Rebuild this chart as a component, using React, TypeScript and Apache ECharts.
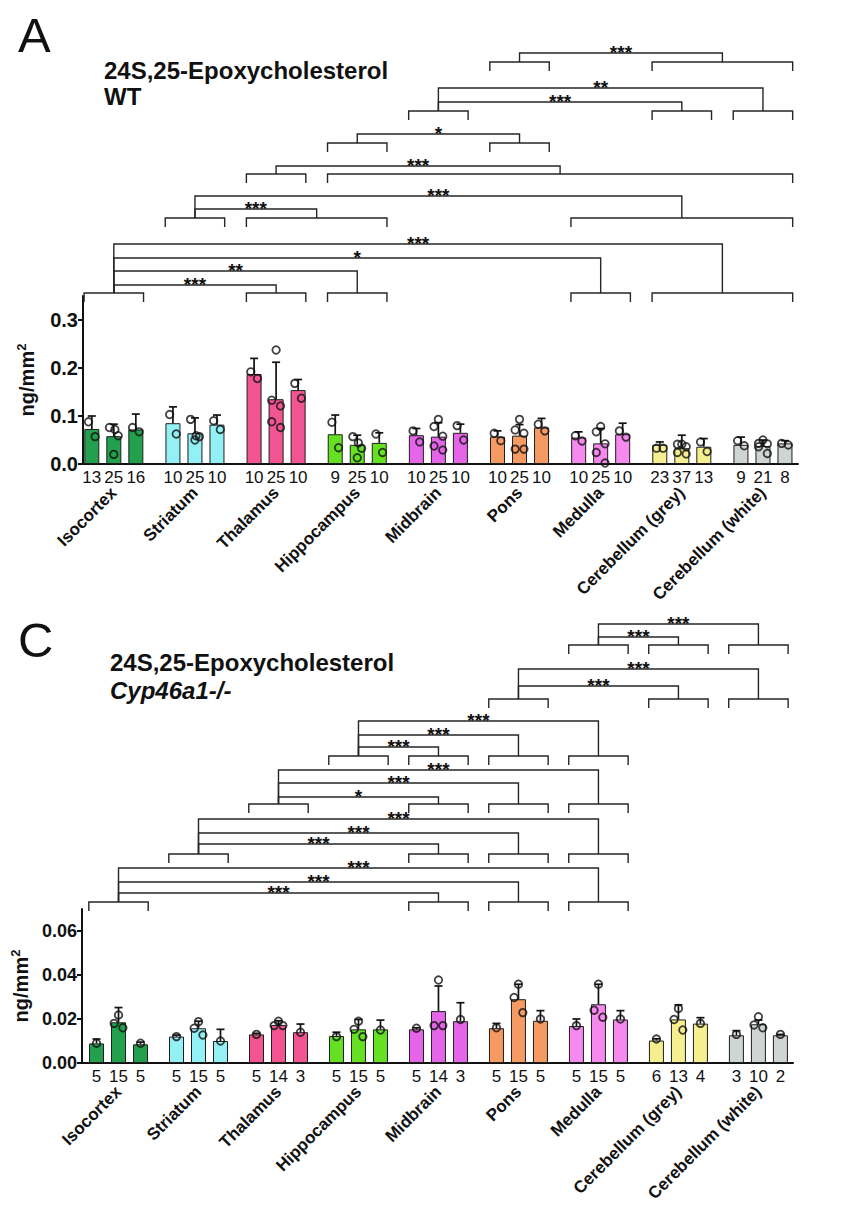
import React, { useEffect, useRef } from 'react';
import * as echarts from 'echarts';

const FONT = '"Liberation Sans", Arial, Helvetica, sans-serif';
const INK = '#111111';

// ---------- shared categories ----------
const regions = [
  'Isocortex', 'Striatum', 'Thalamus', 'Hippocampus', 'Midbrain',
  'Pons', 'Medulla', 'Cerebellum (grey)', 'Cerebellum (white)',
];
const regionColors = [
  '#22a04e', '#93f0f4', '#f25591', '#66e022', '#e565e9',
  '#f59a63', '#f589ee', '#f6ef8f', '#cfd5d3',
];

// ---------- Panel A (WT) ----------
const nA = [13, 25, 16, 10, 25, 10, 10, 25, 10, 9, 25, 10, 10, 25, 10, 10, 25, 10, 10, 25, 10, 23, 37, 13, 9, 21, 8];
const meanA = [
  0.073, 0.058, 0.072, 0.085, 0.064, 0.082, 0.1875, 0.135, 0.154,
  0.062, 0.040, 0.044, 0.060, 0.057, 0.065, 0.057, 0.059, 0.076,
  0.055, 0.043, 0.062, 0.040, 0.033, 0.036, 0.040, 0.0375, 0.043,
];
const upperA = [
  0.100, 0.083, 0.104, 0.119, 0.096, 0.102, 0.220, 0.212, 0.176,
  0.102, 0.060, 0.065, 0.074, 0.086, 0.083, 0.069, 0.082, 0.095,
  0.067, 0.074, 0.085, 0.046, 0.060, 0.053, 0.056, 0.050, 0.0486,
];
const pointsA = [
  [0.088, 0.057], [0.076, 0.072, 0.059, 0.020], [0.076, 0.067],
  [0.103, 0.0625], [0.093, 0.059, 0.057, 0.050], [0.090, 0.072],
  [0.192, 0.178], [0.2375, 0.133, 0.121, 0.088, 0.076], [0.168, 0.137],
  [0.087, 0.034], [0.057, 0.044, 0.033, 0.013], [0.0625, 0.024],
  [0.069, 0.046], [0.093, 0.078, 0.058, 0.0375, 0.029], [0.080, 0.050],
  [0.064, 0.0486], [0.093, 0.071, 0.064, 0.031, 0.031], [0.083, 0.069],
  [0.059, 0.048], [0.078, 0.067, 0.042, 0.024, 0.002], [0.069, 0.056],
  [0.033, 0.033], [0.041, 0.041, 0.036, 0.024, 0.021], [0.046, 0.026],
  [0.0486, 0.038], [0.050, 0.043, 0.042, 0.036, 0.022], [0.043, 0.0396],
];
const yTicksA = [0, 0.1, 0.2, 0.3];
// comparisons: group spans [first, last]
const compFromA = [[0, 0], [0, 0], [0, 0], [0, 0], [1, 1], [1, 1], [2, 2], [3, 3], [4, 4], [4, 4], [5, 5]];
const compToA = [[2, 2], [3, 3], [6, 6], [7, 8], [2, 3], [6, 8], [3, 8], [5, 5], [7, 7], [8, 8], [7, 8]];
const starsA = ['***', '**', '*', '***', '***', '***', '***', '*', '***', '**', '***'];

// ---------- Panel C (Cyp46a1-/-) ----------
const nC = [5, 15, 5, 5, 15, 5, 5, 14, 3, 5, 15, 5, 5, 14, 3, 5, 15, 5, 5, 15, 5, 6, 13, 4, 3, 10, 2];
const meanC = [
  0.0089, 0.0185, 0.0085, 0.0120, 0.0158, 0.0100, 0.0130, 0.0173, 0.0140,
  0.0123, 0.0153, 0.0153, 0.0153, 0.0236, 0.0190, 0.0158, 0.0290, 0.0192,
  0.0168, 0.0267, 0.0198, 0.0102, 0.0198, 0.0179, 0.0126, 0.0176, 0.0126,
];
const upperC = [
  0.0109, 0.0252, 0.0095, 0.0127, 0.0190, 0.0153, 0.0135, 0.0192, 0.0177,
  0.0140, 0.0198, 0.0195, 0.0160, 0.0350, 0.0274, 0.0180, 0.0358, 0.0238,
  0.0200, 0.0358, 0.0238, 0.0110, 0.0264, 0.0206, 0.0147, 0.0195, 0.0130,
];
const pointsC = [
  [0.009], [0.0218, 0.018, 0.016], [0.009],
  [0.012], [0.0188, 0.0158, 0.0127], [0.010],
  [0.013], [0.019, 0.017, 0.017], [0.014],
  [0.012], [0.019, 0.0153, 0.012], [0.015],
  [0.0158], [0.0377, 0.017, 0.017], [0.0198],
  [0.016], [0.0358, 0.0298, 0.0229], [0.020],
  [0.017], [0.0358, 0.024, 0.0208], [0.020],
  [0.0109], [0.0248, 0.0198, 0.015], [0.018],
  [0.013], [0.021, 0.0173, 0.016], [0.013],
];
const yTicksC = [0, 0.02, 0.04, 0.06];
const compFromC = [[0, 0], [0, 0], [0, 0], [1, 1], [1, 1], [1, 1], [2, 2], [2, 2], [2, 2], [3, 3], [3, 3], [3, 3], [5, 5], [5, 5], [6, 6], [6, 6]];
const compToC = [[4, 4], [5, 5], [6, 6], [4, 4], [5, 5], [6, 6], [4, 4], [5, 5], [6, 6], [4, 4], [5, 5], [6, 6], [7, 7], [8, 8], [7, 7], [8, 8]];
const starsC = ['***', '***', '***', '***', '***', '***', '*', '***', '***', '***', '***', '***', '***', '***', '***', '***'];

// ---------- layout (px heights of brackets above their grid bottom) ----------
const bracketBaseA = [12, 12, 12, 12, 87, 87, 131, 162, 194, 194, 243];
const bracketLineA = [20, 34, 47, 61, 96, 109, 139, 171, 203, 217, 252];
const bracketBaseC = [13, 13, 13, 61, 61, 61, 111, 111, 111, 159, 159, 159, 216, 216, 270, 270];
const bracketLineC = [22, 33, 47, 71, 82, 96, 118, 132, 145, 168, 180, 194, 229, 246, 278, 291];

const JITTER: Record<number, number[]> = {
  1: [0], 2: [-0.15, 0.15], 3: [0, -0.2, 0.2], 4: [-0.2, 0.05, 0.2, 0], 5: [0, -0.2, 0.2, -0.2, 0.2],
};

function buildPanel(cfg: any, g0: number, x0: number, y0: number) {
  const centers: number[] = [];
  const colors: string[] = [];
  for (let g = 0; g < regions.length; g++) {
    for (let s = 0; s < 3; s++) {
      centers.push(g * cfg.stride + s);
      colors.push(regionColors[g]);
    }
  }
  const groupCenters = regions.map((_, g) => g * cfg.stride + 1);
  const nearest = (arr: number[], v: number) => {
    let bi = 0;
    arr.forEach((c, i) => { if (Math.abs(c - v) < Math.abs(arr[bi] - v)) bi = i; });
    return bi;
  };

  const grids = [
    { left: cfg.left, top: cfg.barTop, width: cfg.width, height: cfg.barHeight },
    { left: cfg.left, top: cfg.brTop, width: cfg.width, height: cfg.brHeight },
  ];
  const xAxes = [
    {
      type: 'value', gridIndex: g0, min: cfg.xMin, max: cfg.xMax,
      axisLine: { show: true, onZero: false, lineStyle: { color: INK, width: 2 } },
      axisTick: { show: false }, splitLine: { show: false },
      axisLabel: {
        customValues: centers, color: INK, fontSize: 17, fontFamily: FONT, margin: 5,
        formatter: (v: number) => String(cfg.n[nearest(centers, v)]),
      },
    },
    {
      type: 'value', gridIndex: g0, min: cfg.xMin, max: cfg.xMax, position: 'bottom',
      axisLine: { show: false, onZero: false }, axisTick: { show: false }, splitLine: { show: false },
      axisLabel: {
        customValues: groupCenters, rotate: 45, color: INK, fontSize: 17, fontWeight: 'bold',
        fontFamily: FONT, margin: cfg.nameMargin,
        formatter: (v: number) => regions[nearest(groupCenters, v)],
      },
    },
    { type: 'value', gridIndex: g0 + 1, min: cfg.xMin, max: cfg.xMax, show: false },
  ];
  const yAxes = [
    {
      type: 'value', gridIndex: g0, min: 0, max: cfg.yMax,
      axisLine: { show: true, onZero: false, lineStyle: { color: INK, width: 2 } },
      axisTick: { show: true, length: 5, customValues: cfg.yTicks, lineStyle: { color: INK, width: 2 } },
      splitLine: { show: false },
      axisLabel: {
        customValues: cfg.yTicks, color: INK, fontSize: cfg.yLabelSize, fontWeight: 'bold',
        fontFamily: FONT, margin: 5, formatter: (v: number) => v.toFixed(cfg.dec),
      },
      name: '{a|ng/mm}{b|2}', nameLocation: 'middle', nameRotate: 90, nameGap: cfg.nameGap,
      nameTextStyle: {
        color: INK,
        rich: {
          a: { fontSize: 20, fontWeight: 'bold', fontFamily: FONT, color: INK, lineHeight: 24 },
          b: { fontSize: 13, fontWeight: 'bold', fontFamily: FONT, color: INK, verticalAlign: 'top', lineHeight: 24 },
        },
      },
    },
    { type: 'value', gridIndex: g0 + 1, min: 0, max: cfg.brHeight, show: false },
  ];

  const scatterData: number[][] = [];
  cfg.points.forEach((pts: number[], i: number) => {
    const jit = JITTER[pts.length] || pts.map(() => 0);
    pts.forEach((v, k) => scatterData.push([centers[i] + jit[k], v]));
  });

  const HB = 0.35;
  const span = (sp: number[]) => [centers[sp[0] * 3] - HB, centers[sp[1] * 3 + 2] + HB];
  const key = (sp: number[], base: number) => `${sp[0]}-${sp[1]}@${base}`;
  // first comparison index that draws each distinct bracket
  const owner: Record<string, string> = {};
  cfg.from.forEach((f: number[], i: number) => {
    const kf = key(f, cfg.base[i]);
    const kt = key(cfg.to[i], cfg.base[i]);
    if (!(kf in owner)) owner[kf] = `${i}f`;
    if (!(kt in owner)) owner[kt] = `${i}t`;
  });

  const series: any[] = [
    {
      type: 'bar', xAxisIndex: x0, yAxisIndex: y0, barWidth: 15, silent: true,
      itemStyle: { borderColor: '#1e1e1e', borderWidth: 1 },
      data: centers.map((c, i) => ({ value: [c, cfg.mean[i]], itemStyle: { color: colors[i] } })),
      z: 2,
    },
    {
      type: 'custom', xAxisIndex: x0, yAxisIndex: y0, silent: true, z: 3,
      data: centers.map((c, i) => [c, cfg.mean[i], cfg.upper[i]]),
      encode: { x: 0, y: [1, 2] },
      renderItem: (_p: any, api: any) => {
        const x = api.value(0);
        const a = api.coord([x, api.value(1)]);
        const b = api.coord([x, api.value(2)]);
        const st = { stroke: INK, lineWidth: 1.7 };
        return {
          type: 'group',
          children: [
            { type: 'line', shape: { x1: a[0], y1: a[1], x2: b[0], y2: b[1] }, style: st },
            { type: 'line', shape: { x1: b[0] - 4, y1: b[1], x2: b[0] + 4, y2: b[1] }, style: st },
          ],
        };
      },
    },
    {
      type: 'scatter', xAxisIndex: x0, yAxisIndex: y0, silent: true, z: 4,
      symbol: 'circle', symbolSize: 7.5,
      itemStyle: { color: 'rgba(255,255,255,0)', borderColor: INK, borderWidth: 1.8 },
      data: scatterData,
    },
    {
      type: 'custom', xAxisIndex: x0 + 2, yAxisIndex: y0 + 1, silent: true, z: 5,
      data: cfg.from.map((f: number[], i: number) => {
        const a = span(f), b = span(cfg.to[i]);
        return [((a[0] + a[1]) / 2 + (b[0] + b[1]) / 2) / 2, cfg.line[i]];
      }),
      renderItem: (params: any, api: any) => {
        const i = params.dataIndex;
        const a = span(cfg.from[i]);
        const b = span(cfg.to[i]);
        const base = cfg.base[i];
        const line = cfg.line[i];
        const P = (x: number, y: number) => api.coord([x, y]);
        const am = (a[0] + a[1]) / 2;
        const bm = (b[0] + b[1]) / 2;
        const tick = 9;
        const st = { stroke: '#262626', lineWidth: 1.4, fill: null };
        const bracket = (s: number[]) => ({
          type: 'polyline',
          shape: { points: [P(s[0], base - tick), P(s[0], base), P(s[1], base), P(s[1], base - tick)] },
          style: st,
        });
        const mid = P((am + bm) / 2, line);
        const children: any[] = [];
        if (owner[key(cfg.from[i], base)] === `${i}f`) children.push(bracket(a));
        if (owner[key(cfg.to[i], base)] === `${i}t`) children.push(bracket(b));
        children.push(
          {
            type: 'polyline',
            shape: { points: [P(am, base), P(am, line), P(bm, line), P(bm, base)] },
            style: st,
          },
          {
            type: 'text', x: mid[0], y: mid[1] - 1,
            style: {
              text: cfg.stars[i], fill: INK, font: `bold 19px ${FONT}`,
              align: 'center', verticalAlign: 'middle',
            },
          },
        );
        return { type: 'group', children };
      },
    },
  ];
  return { grids, xAxes, yAxes, series };
}

export default function App() {
  const ref = useRef<HTMLDivElement>(null);
  useEffect(() => {
    if (!ref.current) return;
    const chart = echarts.init(ref.current, undefined, { renderer: 'svg' });
    const A = buildPanel({
      left: 83, width: 715, barTop: 296, barHeight: 168, brTop: 40, brHeight: 265,
      xMin: -0.4, xMax: 32.08, stride: 3.686, yMax: 0.35, yTicks: yTicksA, dec: 1,
      yLabelSize: 20, nameGap: 44, nameMargin: 26,
      n: nA, mean: meanA, upper: upperA, points: pointsA,
      from: compFromA, to: compToA, stars: starsA, base: bracketBaseA, line: bracketLineA,
    }, 0, 0, 0);
    const C = buildPanel({
      left: 82, width: 711, barTop: 909, barHeight: 154, brTop: 600, brHeight: 315,
      xMin: -0.66, xMax: 31.66, stride: 3.636, yMax: 0.07, yTicks: yTicksC, dec: 2,
      yLabelSize: 18, nameGap: 46, nameMargin: 26,
      n: nC, mean: meanC, upper: upperC, points: pointsC,
      from: compFromC, to: compToC, stars: starsC, base: bracketBaseC, line: bracketLineC,
    }, 2, 3, 2);

    const titleFont = `bold 24px ${FONT}`;
    chart.setOption({
      animation: false,
      backgroundColor: '#ffffff',
      textStyle: { fontFamily: FONT },
      grid: [...A.grids, ...C.grids],
      xAxis: [...A.xAxes, ...C.xAxes],
      yAxis: [...A.yAxes, ...C.yAxes],
      series: [...A.series, ...C.series],
      graphic: [
        { type: 'text', x: 18, y: 35, style: { text: 'A', font: `normal 49px ${FONT}`, fill: INK, verticalAlign: 'middle' } },
        { type: 'text', x: 104, y: 70, style: { text: '24S,25-Epoxycholesterol', font: titleFont, fill: INK, verticalAlign: 'middle' } },
        { type: 'text', x: 104, y: 96, style: { text: 'WT', font: titleFont, fill: INK, verticalAlign: 'middle' } },
        { type: 'text', x: 18, y: 640, style: { text: 'C', font: `normal 49px ${FONT}`, fill: INK, verticalAlign: 'middle' } },
        { type: 'text', x: 110, y: 662, style: { text: '24S,25-Epoxycholesterol', font: titleFont, fill: INK, verticalAlign: 'middle' } },
        { type: 'text', x: 110, y: 690, style: { text: 'Cyp46a1-/-', font: `italic bold 24px ${FONT}`, fill: INK, verticalAlign: 'middle' } },
      ],
    });
    return () => chart.dispose();
  }, []);
  return (
    <div
      ref={ref}
      style={{ position: 'absolute', left: 0, top: 0, width: 850, height: 1211, background: '#fff' }}
    />
  );
}
